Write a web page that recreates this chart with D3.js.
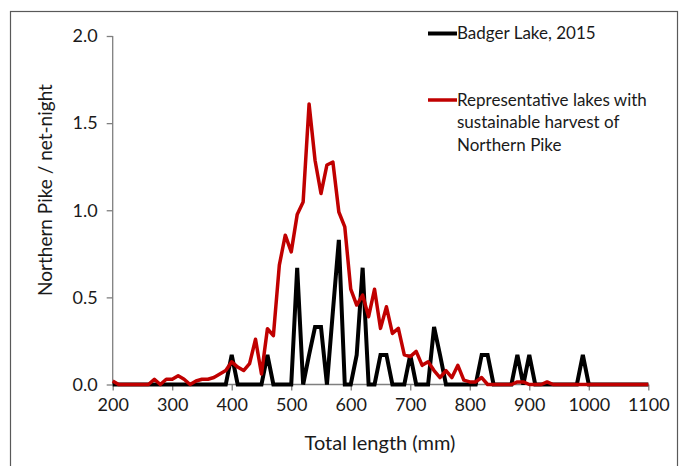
<!DOCTYPE html>
<html>
<head>
<meta charset="utf-8">
<script src="https://cdn.jsdelivr.net/npm/d3@7"></script>
<style>
  body { margin: 0; background: #fff; }
  text { font-family: Lato, "Open Sans", sans-serif; fill: #1a1a1a; }
</style>
</head>
<body>
<div id="chart"></div>
<script>
// length bins (mm), 10 mm steps
var lengths = d3.range(200, 1110, 10);

// Badger Lake, 2015
var badger = [
  0, 0, 0, 0, 0, 0, 0, 0, 0, 0,          // 200-290
  0, 0, 0, 0, 0, 0, 0, 0, 0, 0,          // 300-390
  0.17, 0, 0, 0, 0, 0, 0.17, 0, 0, 0,    // 400-490
  0, 0.67, 0, 0.17, 0.33, 0.33, 0, 0.42, 0.83, 0,   // 500-590
  0, 0.17, 0.67, 0, 0, 0.17, 0.17, 0, 0, 0,         // 600-690
  0.17, 0, 0, 0, 0.33, 0.17, 0, 0, 0, 0, // 700-790
  0, 0, 0.17, 0.17, 0, 0, 0, 0, 0.17, 0, // 800-890
  0.17, 0, 0, 0, 0, 0, 0, 0, 0, 0.17,    // 900-990
  0, 0, 0, 0, 0, 0, 0, 0, 0, 0,          // 1000-1090
  0                                      // 1100
];

// representative lakes with sustainable harvest
var representative = [
  0.02, 0, 0, 0, 0, 0, 0, 0.03, 0, 0.03,               // 200-290
  0.03, 0.05, 0.03, 0, 0.02, 0.03, 0.03, 0.04, 0.06, 0.08, // 300-390
  0.13, 0.10, 0.08, 0.12, 0.26, 0.06, 0.32, 0.28, 0.685, 0.857, // 400-490
  0.761, 0.975, 1.048, 1.61, 1.287, 1.096, 1.26, 1.277, 0.99, 0.904, // 500-590
  0.547, 0.456, 0.513, 0.389, 0.547, 0.322, 0.446, 0.293, 0.322, 0.17, // 600-690
  0.16, 0.19, 0.11, 0.13, 0.08, 0.04, 0.08, 0.04, 0.11, 0.025, // 700-790
  0.015, 0.015, 0.04, 0, 0, 0, 0, 0, 0.015, 0.015,      // 800-890
  0, 0, 0, 0.015, 0, 0, 0, 0, 0, 0,                     // 900-990
  0, 0, 0, 0, 0, 0, 0, 0, 0, 0,                         // 1000-1090
  0                                                     // 1100
];

var xTicks = [200, 300, 400, 500, 600, 700, 800, 900, 1000, 1100];
var yTicks = [0, 0.5, 1.0, 1.5, 2.0];

var seriesNames = ['Badger Lake, 2015',
  ['Representative lakes with', 'sustainable harvest of', 'Northern Pike']];

var svg = d3.select('#chart').append('svg')
  .attr('width', 688)
  .attr('height', 466);

// outer frame
svg.append('rect')
  .attr('x', 10.5).attr('y', 11.5)
  .attr('width', 667).attr('height', 470)
  .attr('fill', 'none')
  .attr('stroke', '#595959')
  .attr('stroke-width', 1.2);

var x = d3.scaleLinear().domain([200, 1100]).range([112.7, 648.3]);
var y = d3.scaleLinear().domain([0, 2]).range([384.5, 36]);

// axes
var xAxis = svg.append('g')
  .attr('transform', 'translate(0,' + y(0) + ')')
  .call(d3.axisBottom(x).tickValues(xTicks).tickSize(6).tickPadding(8)
    .tickFormat(d3.format('d')));

var yAxis = svg.append('g')
  .attr('transform', 'translate(' + x(200) + ',0)')
  .call(d3.axisLeft(y).tickValues(yTicks).tickSize(6).tickPadding(9)
    .tickFormat(d3.format('.1f')));

[xAxis, yAxis].forEach(function (g) {
  g.select('.domain').attr('stroke', '#7f7f7f').attr('stroke-width', 1.3);
  g.selectAll('.tick line').attr('stroke', '#7f7f7f').attr('stroke-width', 1.3);
  g.selectAll('.tick text')
    .attr('fill', '#1a1a1a')
    .style('font-family', 'Lato, sans-serif')
    .style('font-size', '18px');
});
// drop the outer end ticks d3 puts on the domain path
xAxis.select('.domain').attr('d', 'M' + x(200) + ',0H' + x(1100));
yAxis.select('.domain').attr('d', 'M0,' + y(2) + 'V' + y(0));

// axis titles
svg.append('text')
  .attr('x', 380).attr('y', 450)
  .attr('text-anchor', 'middle')
  .style('font-size', '20px')
  .text('Total length (mm)');

svg.append('text')
  .attr('transform', 'translate(52,190) rotate(-90)')
  .attr('text-anchor', 'middle')
  .style('font-size', '19px')
  .text('Northern Pike / net-night');

// lines
var line = d3.line()
  .x(function (d) { return x(d[0]); })
  .y(function (d) { return y(d[1]); });

svg.append('path')
  .datum(d3.zip(lengths, badger))
  .attr('d', line)
  .attr('fill', 'none')
  .attr('stroke', '#000')
  .attr('stroke-width', 4)
  .attr('stroke-linejoin', 'miter');

svg.append('path')
  .datum(d3.zip(lengths, representative))
  .attr('d', line)
  .attr('fill', 'none')
  .attr('stroke', '#c00000')
  .attr('stroke-width', 3.5)
  .attr('stroke-linejoin', 'round');

// legend
var legend = svg.append('g');
legend.append('line')
  .attr('x1', 428).attr('x2', 457).attr('y1', 33.5).attr('y2', 33.5)
  .attr('stroke', '#000').attr('stroke-width', 4);
legend.append('text')
  .attr('x', 457).attr('y', 39)
  .style('font-size', '17px')
  .text(seriesNames[0]);

legend.append('line')
  .attr('x1', 428).attr('x2', 457).attr('y1', 100).attr('y2', 100)
  .attr('stroke', '#c00000').attr('stroke-width', 3.5);
legend.append('text')
  .attr('x', 457).attr('y', 105.5)
  .style('font-size', '17px')
  .selectAll('tspan').data(seriesNames[1])
  .enter().append('tspan')
  .attr('x', 457)
  .attr('dy', function (d, i) { return i === 0 ? 0 : 22.7; })
  .text(function (d) { return d; });
</script>
</body>
</html>
